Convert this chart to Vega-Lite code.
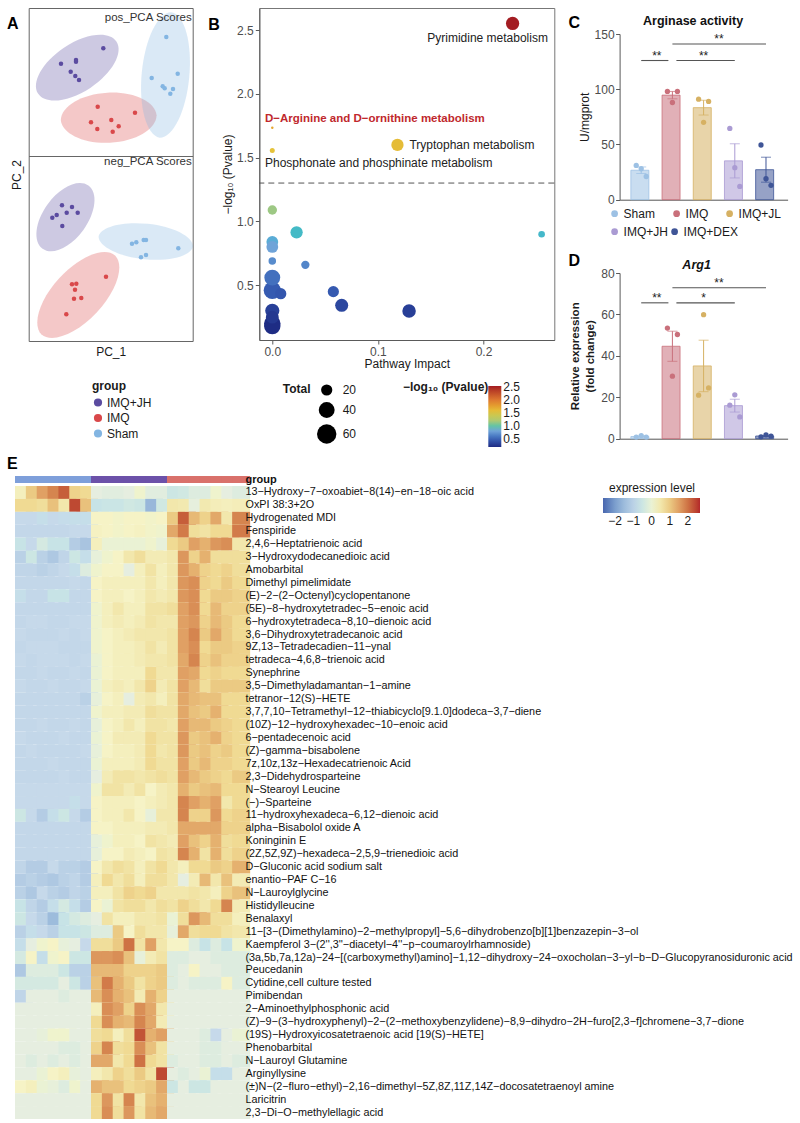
{
"$schema":"https://vega.github.io/schema/vega-lite/v6.json",
"background":"white",
"padding":{"left":7,"top":7,"right":0,"bottom":0},
"config":{"font":"Liberation Sans","view":{"stroke":null},
"axis":{"grid":false,"labelFontSize":12,"titleFontSize":12,"titleFontWeight":"normal","labelColor":"#4D4D4D","titleColor":"#1A1A1A","domainColor":"#5A5A5A","tickColor":"#5A5A5A"},
"legend":{"labelFontSize":12,"titleFontSize":12,"labelColor":"#1A1A1A","titleColor":"#1A1A1A"},
"title":{"color":"#111"}},
"datasets":{
"pcaPos":[{"g":"IMQ+JH","x":74.6,"y":107.7},{"g":"IMQ+JH","x":32.3,"y":92.3},{"g":"IMQ+JH","x":47.3,"y":96},{"g":"IMQ+JH","x":47.3,"y":94.3},{"g":"IMQ+JH","x":42,"y":84.3},{"g":"IMQ+JH","x":46.6,"y":80},{"g":"IMQ+JH","x":50.3,"y":76},
{"g":"IMQ","x":69,"y":49.3},{"g":"IMQ","x":106.3,"y":43.3},{"g":"IMQ","x":62.3,"y":33.7},{"g":"IMQ","x":68.6,"y":27},{"g":"IMQ","x":82.6,"y":36},{"g":"IMQ","x":90,"y":29.7},{"g":"IMQ","x":84,"y":24.3},
{"g":"Sham","x":137.6,"y":119},{"g":"Sham","x":149,"y":82.3},{"g":"Sham","x":123,"y":78},{"g":"Sham","x":134,"y":69.7},{"g":"Sham","x":136,"y":67.7},{"g":"Sham","x":144.3,"y":67},{"g":"Sham","x":141.6,"y":62.3}],
"pcaNeg":[{"g":"IMQ+JH","x":33.3,"y":135.7},{"g":"IMQ+JH","x":43.3,"y":134},{"g":"IMQ+JH","x":38,"y":128.3},{"g":"IMQ+JH","x":49,"y":128.3},{"g":"IMQ+JH","x":23.6,"y":123.3},{"g":"IMQ+JH","x":28,"y":126},{"g":"IMQ+JH","x":33.6,"y":115},
{"g":"Sham","x":103.3,"y":97.3},{"g":"Sham","x":107.6,"y":98.7},{"g":"Sham","x":115,"y":101},{"g":"Sham","x":117.3,"y":101},{"g":"Sham","x":149.6,"y":92.7},{"g":"Sham","x":112.3,"y":83.7},{"g":"Sham","x":117.3,"y":86},
{"g":"IMQ","x":77.3,"y":64.3},{"g":"IMQ","x":43.3,"y":56.7},{"g":"IMQ","x":47.6,"y":57.3},{"g":"IMQ","x":46.3,"y":51.3},{"g":"IMQ","x":45.3,"y":42.3},{"g":"IMQ","x":52.6,"y":43},{"g":"IMQ","x":37.6,"y":26.7}],
"ellPos":[{"g":"IMQ+JH","x":48.6,"y":88.3},{"g":"IMQ","x":80,"y":38.3},{"g":"Sham","x":136.8,"y":81}],
"ellNeg":[{"g":"IMQ+JH","x":36.8,"y":123.8},{"g":"Sham","x":117.1,"y":99.5},{"g":"IMQ","x":49.6,"y":46}],
"pw":[{"imp":0,"lp":0.46,"tot":47},{"imp":0,"lp":0.56,"tot":40},{"imp":0,"lp":0.2,"tot":43},{"imp":0,"lp":0.18,"tot":43},{"imp":0,"lp":0.3,"tot":32},{"imp":0,"lp":0.25,"tot":26},{"imp":0.1295,"lp":0.298,"tot":29},{"imp":0.0657,"lp":0.343,"tot":27},{"imp":0.0578,"lp":0.45,"tot":20},{"imp":0.008,"lp":0.434,"tot":20},{"imp":0,"lp":0.84,"tot":22},{"imp":0,"lp":0.8,"tot":22},{"imp":0.023,"lp":0.915,"tot":24},{"imp":0,"lp":0.69,"tot":9},{"imp":0.0313,"lp":0.66,"tot":11},{"imp":0,"lp":1.09,"tot":14},{"imp":0.255,"lp":0.9,"tot":7},
{"imp":0.2275,"lp":2.552,"tot":28,"label":"Pyrimidine metabolism"},{"imp":0.1185,"lp":1.6,"tot":24,"label":"Tryptophan metabolism"},{"imp":0,"lp":1.556,"tot":4,"label":"Phosphonate and phosphinate metabolism"},{"imp":0,"lp":1.734,"tot":1,"label":"D−Arginine and D−ornithine metabolism"}],
"thr":[{"t":1.30103}],
"argC":[{"g":"Sham","rep":1,"v":31},{"g":"Sham","rep":2,"v":28},{"g":"Sham","rep":3,"v":21},{"g":"IMQ","rep":1,"v":98},{"g":"IMQ","rep":2,"v":88},{"g":"IMQ","rep":3,"v":98},{"g":"IMQ+JL","rep":1,"v":91},{"g":"IMQ+JL","rep":2,"v":70},{"g":"IMQ+JL","rep":3,"v":89},{"g":"IMQ+JH","rep":1,"v":64.5},{"g":"IMQ+JH","rep":2,"v":29},{"g":"IMQ+JH","rep":3,"v":12},{"g":"IMQ+DEX","rep":1,"v":49.5},{"g":"IMQ+DEX","rep":2,"v":19},{"g":"IMQ+DEX","rep":3,"v":13}],
"argD":[{"g":"Sham","rep":1,"v":0.8},{"g":"Sham","rep":2,"v":1.5},{"g":"Sham","rep":3,"v":0.8},{"g":"IMQ","rep":1,"v":53.4},{"g":"IMQ","rep":2,"v":30.2},{"g":"IMQ","rep":3,"v":50.3},{"g":"IMQ+JL","rep":1,"v":21},{"g":"IMQ+JL","rep":2,"v":59.9},{"g":"IMQ+JL","rep":3,"v":24.5},{"g":"IMQ+JH","rep":1,"v":16.2},{"g":"IMQ+JH","rep":2,"v":21.2},{"g":"IMQ+JH","rep":3,"v":10.5},{"g":"IMQ+DEX","rep":1,"v":0.9},{"g":"IMQ+DEX","rep":2,"v":1.8},{"g":"IMQ+DEX","rep":3,"v":1.2}],
"sigC":[{"from":"Sham","to":"IMQ","y":126,"lab":"**"},{"from":"IMQ","to":"IMQ+JH","y":126,"lab":"**"},{"from":"IMQ","to":"IMQ+DEX","y":141,"lab":"**"}],
"sigD":[{"from":"Sham","to":"IMQ","y":65.6,"lab":"**"},{"from":"IMQ","to":"IMQ+JH","y":65.6,"lab":"*"},{"from":"IMQ","to":"IMQ+DEX","y":72.9,"lab":"**"}],
"cols":[{"c":1,"g":"Sham"},{"c":2,"g":"Sham"},{"c":3,"g":"Sham"},{"c":4,"g":"Sham"},{"c":5,"g":"Sham"},{"c":6,"g":"Sham"},{"c":7,"g":"Sham"},{"c":8,"g":"IMQ+JH"},{"c":9,"g":"IMQ+JH"},{"c":10,"g":"IMQ+JH"},{"c":11,"g":"IMQ+JH"},{"c":12,"g":"IMQ+JH"},{"c":13,"g":"IMQ+JH"},{"c":14,"g":"IMQ+JH"},{"c":15,"g":"IMQ"},{"c":16,"g":"IMQ"},{"c":17,"g":"IMQ"},{"c":18,"g":"IMQ"},{"c":19,"g":"IMQ"},{"c":20,"g":"IMQ"},{"c":21,"g":"IMQ"}],
"metab":[{"r":1,"m":"13−Hydroxy−7−oxoabiet−8(14)−en−18−oic acid"},{"r":2,"m":"OxPI 38:3+2O"},{"r":3,"m":"Hydrogenated MDI"},{"r":4,"m":"Fenspiride"},{"r":5,"m":"2,4,6−Heptatrienoic acid"},{"r":6,"m":"3−Hydroxydodecanedioic acid"},{"r":7,"m":"Amobarbital"},{"r":8,"m":"Dimethyl pimelimidate"},{"r":9,"m":"(E)−2−(2−Octenyl)cyclopentanone"},{"r":10,"m":"(5E)−8−hydroxytetradec−5−enoic acid"},{"r":11,"m":"6−hydroxytetradeca−8,10−dienoic acid"},{"r":12,"m":"3,6−Dihydroxytetradecanoic acid"},{"r":13,"m":"9Z,13−Tetradecadien−11−ynal"},{"r":14,"m":"tetradeca−4,6,8−trienoic acid"},{"r":15,"m":"Synephrine"},{"r":16,"m":"3,5−Dimethyladamantan−1−amine"},{"r":17,"m":"tetranor−12(S)−HETE"},{"r":18,"m":"3,7,7,10−Tetramethyl−12−thiabicyclo[9.1.0]dodeca−3,7−diene"},{"r":19,"m":"(10Z)−12−hydroxyhexadec−10−enoic acid"},{"r":20,"m":"6−pentadecenoic acid"},{"r":21,"m":"(Z)−gamma−bisabolene"},{"r":22,"m":"7z,10z,13z−Hexadecatrienoic Acid"},{"r":23,"m":"2,3−Didehydrosparteine"},{"r":24,"m":"N−Stearoyl Leucine"},{"r":25,"m":"(−)−Sparteine"},{"r":26,"m":"11−hydroxyhexadeca−6,12−dienoic acid"},{"r":27,"m":"alpha−Bisabolol oxide A"},{"r":28,"m":"Koninginin E"},{"r":29,"m":"(2Z,5Z,9Z)−hexadeca−2,5,9−trienedioic acid"},{"r":30,"m":"D−Gluconic acid sodium salt"},{"r":31,"m":"enantio−PAF C−16"},{"r":32,"m":"N−Lauroylglycine"},{"r":33,"m":"Histidylleucine"},{"r":34,"m":"Benalaxyl"},{"r":35,"m":"11−[3−(Dimethylamino)−2−methylpropyl]−5,6−dihydrobenzo[b][1]benzazepin−3−ol"},{"r":36,"m":"Kaempferol 3−(2'',3''−diacetyl−4''−p−coumaroylrhamnoside)"},{"r":37,"m":"(3a,5b,7a,12a)−24−[(carboxymethyl)amino]−1,12−dihydroxy−24−oxocholan−3−yl−b−D−Glucopyranosiduronic acid"},{"r":38,"m":"Peucedanin"},{"r":39,"m":"Cytidine,cell culture tested"},{"r":40,"m":"Pimibendan"},{"r":41,"m":"2−Aminoethylphosphonic acid"},{"r":42,"m":"(Z)−9−(3−hydroxyphenyl)−2−(2−methoxybenzylidene)−8,9−dihydro−2H−furo[2,3−f]chromene−3,7−dione"},{"r":43,"m":"(19S)−Hydroxyicosatetraenoic acid [19(S)−HETE]"},{"r":44,"m":"Phenobarbital"},{"r":45,"m":"N−Lauroyl Glutamine"},{"r":46,"m":"Arginyllysine"},{"r":47,"m":"(±)N−(2−fluro−ethyl)−2,16−dimethyl−5Z,8Z,11Z,14Z−docosatetraenoyl amine"},{"r":48,"m":"Laricitrin"},{"r":49,"m":"2,3−Di−O−methylellagic acid"}],
"cells":[
{"r":1,"c":1,"v":0.3},{"r":1,"c":2,"v":1},{"r":1,"c":3,"v":1.5},{"r":1,"c":4,"v":1.8},{"r":1,"c":5,"v":2.2},{"r":1,"c":6,"v":0.9},{"r":1,"c":7,"v":0.8},{"r":1,"c":8,"v":-0.2},{"r":1,"c":9,"v":-0.25},{"r":1,"c":10,"v":-0.25},{"r":1,"c":11,"v":-0.2},{"r":1,"c":12,"v":0.1},{"r":1,"c":13,"v":-0.25},{"r":1,"c":14,"v":-0.25},{"r":1,"c":15,"v":-0.5},{"r":1,"c":16,"v":-0.45},{"r":1,"c":17,"v":-0.3},{"r":1,"c":18,"v":-0.3},{"r":1,"c":19,"v":0.1},{"r":1,"c":20,"v":-0.2},{"r":1,"c":21,"v":-0.3},
{"r":2,"c":1,"v":0.8},{"r":2,"c":2,"v":0.8},{"r":2,"c":3,"v":0.7},{"r":2,"c":4,"v":1.1},{"r":2,"c":5,"v":0.5},{"r":2,"c":6,"v":2.4},{"r":2,"c":7,"v":1.1},{"r":2,"c":8,"v":-0.6},{"r":2,"c":9,"v":-0.55},{"r":2,"c":10,"v":-0.55},{"r":2,"c":11,"v":-0.45},{"r":2,"c":12,"v":-0.5},{"r":2,"c":13,"v":-1.6},{"r":2,"c":14,"v":-0.45},{"r":2,"c":15,"v":0.5},{"r":2,"c":16,"v":0.45},{"r":2,"c":17,"v":-0.15},{"r":2,"c":18,"v":0.45},{"r":2,"c":19,"v":0.35},{"r":2,"c":20,"v":0.3},{"r":2,"c":21,"v":0.35},
{"r":3,"c":1,"v":-0.8},{"r":3,"c":2,"v":-0.8},{"r":3,"c":3,"v":-0.7},{"r":3,"c":4,"v":-0.8},{"r":3,"c":5,"v":-0.75},{"r":3,"c":6,"v":-0.7},{"r":3,"c":7,"v":-0.7},{"r":3,"c":8,"v":0.2},{"r":3,"c":9,"v":0.2},{"r":3,"c":10,"v":0.15},{"r":3,"c":11,"v":0.2},{"r":3,"c":12,"v":0.2},{"r":3,"c":13,"v":0.15},{"r":3,"c":14,"v":0.2},{"r":3,"c":15,"v":1},{"r":3,"c":16,"v":2.2},{"r":3,"c":17,"v":1.2},{"r":3,"c":18,"v":0.9},{"r":3,"c":19,"v":1.4},{"r":3,"c":20,"v":0.5},{"r":3,"c":21,"v":1.8},
{"r":4,"c":1,"v":-0.85},{"r":4,"c":2,"v":-0.85},{"r":4,"c":3,"v":-0.85},{"r":4,"c":4,"v":-0.85},{"r":4,"c":5,"v":-0.85},{"r":4,"c":6,"v":-0.8},{"r":4,"c":7,"v":-0.8},{"r":4,"c":8,"v":0.25},{"r":4,"c":9,"v":0.2},{"r":4,"c":10,"v":0.15},{"r":4,"c":11,"v":0.2},{"r":4,"c":12,"v":0.25},{"r":4,"c":13,"v":0.15},{"r":4,"c":14,"v":0.1},{"r":4,"c":15,"v":1.4},{"r":4,"c":16,"v":1.9},{"r":4,"c":17,"v":0.7},{"r":4,"c":18,"v":0.6},{"r":4,"c":19,"v":0.8},{"r":4,"c":20,"v":0.8},{"r":4,"c":21,"v":1.9},
{"r":5,"c":1,"v":-0.6},{"r":5,"c":2,"v":-0.8},{"r":5,"c":3,"v":-0.4},{"r":5,"c":4,"v":-0.6},{"r":5,"c":5,"v":-0.6},{"r":5,"c":6,"v":-1.1},{"r":5,"c":7,"v":-1.3},{"r":5,"c":8,"v":0.3},{"r":5,"c":9,"v":0},{"r":5,"c":10,"v":0},{"r":5,"c":11,"v":0},{"r":5,"c":12,"v":0},{"r":5,"c":13,"v":0.1},{"r":5,"c":14,"v":-0.1},{"r":5,"c":15,"v":0.8},{"r":5,"c":16,"v":1},{"r":5,"c":17,"v":1.5},{"r":5,"c":18,"v":1.3},{"r":5,"c":19,"v":1.6},{"r":5,"c":20,"v":1.7},{"r":5,"c":21,"v":0.5},
{"r":6,"c":1,"v":-1},{"r":6,"c":2,"v":-0.5},{"r":6,"c":3,"v":-1},{"r":6,"c":4,"v":-1.2},{"r":6,"c":5,"v":-0.9},{"r":6,"c":6,"v":-0.5},{"r":6,"c":7,"v":-0.7},{"r":6,"c":8,"v":-0.1},{"r":6,"c":9,"v":0.1},{"r":6,"c":10,"v":0.2},{"r":6,"c":11,"v":0.5},{"r":6,"c":12,"v":0.7},{"r":6,"c":13,"v":0.4},{"r":6,"c":14,"v":0.4},{"r":6,"c":15,"v":0.5},{"r":6,"c":16,"v":1.6},{"r":6,"c":17,"v":0.9},{"r":6,"c":18,"v":1.3},{"r":6,"c":19,"v":0.7},{"r":6,"c":20,"v":0.7},{"r":6,"c":21,"v":0.7},
{"r":7,"c":1,"v":-0.9},{"r":7,"c":2,"v":-0.9},{"r":7,"c":3,"v":-1},{"r":7,"c":4,"v":-0.9},{"r":7,"c":5,"v":-0.8},{"r":7,"c":6,"v":-0.7},{"r":7,"c":7,"v":-0.3},{"r":7,"c":8,"v":0.1},{"r":7,"c":9,"v":0.2},{"r":7,"c":10,"v":0.2},{"r":7,"c":11,"v":-0.2},{"r":7,"c":12,"v":0.3},{"r":7,"c":13,"v":0.6},{"r":7,"c":14,"v":0.3},{"r":7,"c":15,"v":0.5},{"r":7,"c":16,"v":1.6},{"r":7,"c":17,"v":1.3},{"r":7,"c":18,"v":0.9},{"r":7,"c":19,"v":0.8},{"r":7,"c":20,"v":0.9},{"r":7,"c":21,"v":0.7},
{"r":8,"c":1,"v":-0.85},{"r":8,"c":2,"v":-0.85},{"r":8,"c":3,"v":-0.85},{"r":8,"c":4,"v":-0.85},{"r":8,"c":5,"v":-0.85},{"r":8,"c":6,"v":-0.8},{"r":8,"c":7,"v":-0.85},{"r":8,"c":8,"v":0.2},{"r":8,"c":9,"v":0.3},{"r":8,"c":10,"v":0.3},{"r":8,"c":11,"v":0.3},{"r":8,"c":12,"v":0.3},{"r":8,"c":13,"v":0.5},{"r":8,"c":14,"v":0.3},{"r":8,"c":15,"v":0.5},{"r":8,"c":16,"v":1.6},{"r":8,"c":17,"v":1.7},{"r":8,"c":18,"v":0.9},{"r":8,"c":19,"v":0.8},{"r":8,"c":20,"v":1},{"r":8,"c":21,"v":0.8},
{"r":9,"c":1,"v":-0.7},{"r":9,"c":2,"v":-0.85},{"r":9,"c":3,"v":-0.85},{"r":9,"c":4,"v":-0.6},{"r":9,"c":5,"v":-0.6},{"r":9,"c":6,"v":-0.85},{"r":9,"c":7,"v":-0.85},{"r":9,"c":8,"v":0.2},{"r":9,"c":9,"v":0.3},{"r":9,"c":10,"v":0.3},{"r":9,"c":11,"v":0.2},{"r":9,"c":12,"v":0.3},{"r":9,"c":13,"v":0.5},{"r":9,"c":14,"v":0.4},{"r":9,"c":15,"v":0.5},{"r":9,"c":16,"v":1.6},{"r":9,"c":17,"v":1.7},{"r":9,"c":18,"v":0.8},{"r":9,"c":19,"v":1},{"r":9,"c":20,"v":1},{"r":9,"c":21,"v":0.9},
{"r":10,"c":1,"v":-0.85},{"r":10,"c":2,"v":-0.85},{"r":10,"c":3,"v":-0.85},{"r":10,"c":4,"v":-0.85},{"r":10,"c":5,"v":-0.85},{"r":10,"c":6,"v":-0.85},{"r":10,"c":7,"v":-0.85},{"r":10,"c":8,"v":0.1},{"r":10,"c":9,"v":0.3},{"r":10,"c":10,"v":0.5},{"r":10,"c":11,"v":0.3},{"r":10,"c":12,"v":0.3},{"r":10,"c":13,"v":0.6},{"r":10,"c":14,"v":0.6},{"r":10,"c":15,"v":0.7},{"r":10,"c":16,"v":1.5},{"r":10,"c":17,"v":1.7},{"r":10,"c":18,"v":0.8},{"r":10,"c":19,"v":1.2},{"r":10,"c":20,"v":0.9},{"r":10,"c":21,"v":0.9},
{"r":11,"c":1,"v":-0.85},{"r":11,"c":2,"v":-0.8},{"r":11,"c":3,"v":-0.8},{"r":11,"c":4,"v":-0.85},{"r":11,"c":5,"v":-0.85},{"r":11,"c":6,"v":-0.8},{"r":11,"c":7,"v":-0.8},{"r":11,"c":8,"v":0.1},{"r":11,"c":9,"v":0.3},{"r":11,"c":10,"v":0.4},{"r":11,"c":11,"v":0.3},{"r":11,"c":12,"v":0.4},{"r":11,"c":13,"v":0.6},{"r":11,"c":14,"v":0.5},{"r":11,"c":15,"v":0.5},{"r":11,"c":16,"v":1.5},{"r":11,"c":17,"v":1.6},{"r":11,"c":18,"v":0.9},{"r":11,"c":19,"v":1.2},{"r":11,"c":20,"v":1},{"r":11,"c":21,"v":0.8},
{"r":12,"c":1,"v":-0.8},{"r":12,"c":2,"v":-0.85},{"r":12,"c":3,"v":-0.85},{"r":12,"c":4,"v":-0.85},{"r":12,"c":5,"v":-0.8},{"r":12,"c":6,"v":-0.85},{"r":12,"c":7,"v":-0.8},{"r":12,"c":8,"v":0.1},{"r":12,"c":9,"v":0.2},{"r":12,"c":10,"v":0.3},{"r":12,"c":11,"v":0.4},{"r":12,"c":12,"v":0.5},{"r":12,"c":13,"v":0.5},{"r":12,"c":14,"v":0.5},{"r":12,"c":15,"v":0.6},{"r":12,"c":16,"v":1.5},{"r":12,"c":17,"v":1.8},{"r":12,"c":18,"v":1},{"r":12,"c":19,"v":1.4},{"r":12,"c":20,"v":1},{"r":12,"c":21,"v":0.8},
{"r":13,"c":1,"v":-0.85},{"r":13,"c":2,"v":-0.8},{"r":13,"c":3,"v":-0.8},{"r":13,"c":4,"v":-0.8},{"r":13,"c":5,"v":-0.85},{"r":13,"c":6,"v":-0.85},{"r":13,"c":7,"v":-0.85},{"r":13,"c":8,"v":0.1},{"r":13,"c":9,"v":0.2},{"r":13,"c":10,"v":0.3},{"r":13,"c":11,"v":0.3},{"r":13,"c":12,"v":0.4},{"r":13,"c":13,"v":0.6},{"r":13,"c":14,"v":0.4},{"r":13,"c":15,"v":0.6},{"r":13,"c":16,"v":1.5},{"r":13,"c":17,"v":1.7},{"r":13,"c":18,"v":0.8},{"r":13,"c":19,"v":1},{"r":13,"c":20,"v":1},{"r":13,"c":21,"v":0.9},
{"r":14,"c":1,"v":-0.8},{"r":14,"c":2,"v":-0.85},{"r":14,"c":3,"v":-0.8},{"r":14,"c":4,"v":-0.8},{"r":14,"c":5,"v":-0.8},{"r":14,"c":6,"v":-0.85},{"r":14,"c":7,"v":-0.8},{"r":14,"c":8,"v":0},{"r":14,"c":9,"v":0.2},{"r":14,"c":10,"v":0.3},{"r":14,"c":11,"v":0.3},{"r":14,"c":12,"v":0.4},{"r":14,"c":13,"v":0.5},{"r":14,"c":14,"v":0.5},{"r":14,"c":15,"v":0.6},{"r":14,"c":16,"v":1.4},{"r":14,"c":17,"v":1.8},{"r":14,"c":18,"v":0.9},{"r":14,"c":19,"v":1.1},{"r":14,"c":20,"v":0.9},{"r":14,"c":21,"v":0.9},
{"r":15,"c":1,"v":-0.85},{"r":15,"c":2,"v":-0.85},{"r":15,"c":3,"v":-0.8},{"r":15,"c":4,"v":-0.85},{"r":15,"c":5,"v":-0.85},{"r":15,"c":6,"v":-0.8},{"r":15,"c":7,"v":-0.85},{"r":15,"c":8,"v":0},{"r":15,"c":9,"v":0.2},{"r":15,"c":10,"v":0.3},{"r":15,"c":11,"v":0.3},{"r":15,"c":12,"v":0.3},{"r":15,"c":13,"v":0.8},{"r":15,"c":14,"v":0.5},{"r":15,"c":15,"v":0.5},{"r":15,"c":16,"v":1.5},{"r":15,"c":17,"v":1.4},{"r":15,"c":18,"v":0.8},{"r":15,"c":19,"v":0.9},{"r":15,"c":20,"v":0.8},{"r":15,"c":21,"v":0.8},
{"r":16,"c":1,"v":-0.8},{"r":16,"c":2,"v":-0.85},{"r":16,"c":3,"v":-0.85},{"r":16,"c":4,"v":-0.8},{"r":16,"c":5,"v":-0.85},{"r":16,"c":6,"v":-0.85},{"r":16,"c":7,"v":-0.8},{"r":16,"c":8,"v":0},{"r":16,"c":9,"v":0.3},{"r":16,"c":10,"v":0.4},{"r":16,"c":11,"v":0.3},{"r":16,"c":12,"v":0.5},{"r":16,"c":13,"v":0.9},{"r":16,"c":14,"v":0.4},{"r":16,"c":15,"v":0.6},{"r":16,"c":16,"v":1.5},{"r":16,"c":17,"v":1.2},{"r":16,"c":18,"v":0.7},{"r":16,"c":19,"v":1},{"r":16,"c":20,"v":1},{"r":16,"c":21,"v":1},
{"r":17,"c":1,"v":-0.85},{"r":17,"c":2,"v":-0.85},{"r":17,"c":3,"v":-0.85},{"r":17,"c":4,"v":-0.85},{"r":17,"c":5,"v":-0.85},{"r":17,"c":6,"v":-0.85},{"r":17,"c":7,"v":-1},{"r":17,"c":8,"v":-0.1},{"r":17,"c":9,"v":0.2},{"r":17,"c":10,"v":0.3},{"r":17,"c":11,"v":-0.2},{"r":17,"c":12,"v":0.4},{"r":17,"c":13,"v":0.5},{"r":17,"c":14,"v":0.3},{"r":17,"c":15,"v":0.6},{"r":17,"c":16,"v":1.4},{"r":17,"c":17,"v":1.2},{"r":17,"c":18,"v":1.1},{"r":17,"c":19,"v":1.1},{"r":17,"c":20,"v":0.8},{"r":17,"c":21,"v":0.8},
{"r":18,"c":1,"v":-0.85},{"r":18,"c":2,"v":-0.85},{"r":18,"c":3,"v":-0.85},{"r":18,"c":4,"v":-0.85},{"r":18,"c":5,"v":-0.85},{"r":18,"c":6,"v":-0.85},{"r":18,"c":7,"v":-0.85},{"r":18,"c":8,"v":0.1},{"r":18,"c":9,"v":0.3},{"r":18,"c":10,"v":0.3},{"r":18,"c":11,"v":0.4},{"r":18,"c":12,"v":0.4},{"r":18,"c":13,"v":0.7},{"r":18,"c":14,"v":0.6},{"r":18,"c":15,"v":0.6},{"r":18,"c":16,"v":1.4},{"r":18,"c":17,"v":1.1},{"r":18,"c":18,"v":1},{"r":18,"c":19,"v":1.3},{"r":18,"c":20,"v":0.8},{"r":18,"c":21,"v":0.8},
{"r":19,"c":1,"v":-0.85},{"r":19,"c":2,"v":-0.85},{"r":19,"c":3,"v":-0.8},{"r":19,"c":4,"v":-0.85},{"r":19,"c":5,"v":-0.85},{"r":19,"c":6,"v":-0.8},{"r":19,"c":7,"v":-0.85},{"r":19,"c":8,"v":-0.1},{"r":19,"c":9,"v":0.2},{"r":19,"c":10,"v":0.3},{"r":19,"c":11,"v":0.5},{"r":19,"c":12,"v":0.3},{"r":19,"c":13,"v":0.6},{"r":19,"c":14,"v":0.6},{"r":19,"c":15,"v":0.5},{"r":19,"c":16,"v":1.5},{"r":19,"c":17,"v":1.2},{"r":19,"c":18,"v":1.2},{"r":19,"c":19,"v":1},{"r":19,"c":20,"v":0.9},{"r":19,"c":21,"v":0.8},
{"r":20,"c":1,"v":-0.8},{"r":20,"c":2,"v":-0.85},{"r":20,"c":3,"v":-0.85},{"r":20,"c":4,"v":-0.85},{"r":20,"c":5,"v":-0.8},{"r":20,"c":6,"v":-0.85},{"r":20,"c":7,"v":-0.85},{"r":20,"c":8,"v":0},{"r":20,"c":9,"v":0.2},{"r":20,"c":10,"v":0.4},{"r":20,"c":11,"v":0.4},{"r":20,"c":12,"v":0.4},{"r":20,"c":13,"v":0.8},{"r":20,"c":14,"v":0.6},{"r":20,"c":15,"v":0.6},{"r":20,"c":16,"v":1.6},{"r":20,"c":17,"v":1},{"r":20,"c":18,"v":1.1},{"r":20,"c":19,"v":1.3},{"r":20,"c":20,"v":0.9},{"r":20,"c":21,"v":0.8},
{"r":21,"c":1,"v":-0.85},{"r":21,"c":2,"v":-0.8},{"r":21,"c":3,"v":-0.85},{"r":21,"c":4,"v":-0.85},{"r":21,"c":5,"v":-0.85},{"r":21,"c":6,"v":-0.85},{"r":21,"c":7,"v":-0.8},{"r":21,"c":8,"v":-0.1},{"r":21,"c":9,"v":0.2},{"r":21,"c":10,"v":0.3},{"r":21,"c":11,"v":0.3},{"r":21,"c":12,"v":0.4},{"r":21,"c":13,"v":0.8},{"r":21,"c":14,"v":0.5},{"r":21,"c":15,"v":0.6},{"r":21,"c":16,"v":1.6},{"r":21,"c":17,"v":1},{"r":21,"c":18,"v":1.1},{"r":21,"c":19,"v":0.9},{"r":21,"c":20,"v":1},{"r":21,"c":21,"v":0.8},
{"r":22,"c":1,"v":-0.85},{"r":22,"c":2,"v":-0.85},{"r":22,"c":3,"v":-0.85},{"r":22,"c":4,"v":-0.8},{"r":22,"c":5,"v":-0.85},{"r":22,"c":6,"v":-0.85},{"r":22,"c":7,"v":-0.85},{"r":22,"c":8,"v":0},{"r":22,"c":9,"v":0.3},{"r":22,"c":10,"v":0.3},{"r":22,"c":11,"v":0.3},{"r":22,"c":12,"v":0.4},{"r":22,"c":13,"v":0.8},{"r":22,"c":14,"v":0.6},{"r":22,"c":15,"v":0.6},{"r":22,"c":16,"v":1.5},{"r":22,"c":17,"v":1},{"r":22,"c":18,"v":1.2},{"r":22,"c":19,"v":0.9},{"r":22,"c":20,"v":0.9},{"r":22,"c":21,"v":0.8},
{"r":23,"c":1,"v":-0.85},{"r":23,"c":2,"v":-0.85},{"r":23,"c":3,"v":-0.85},{"r":23,"c":4,"v":-0.85},{"r":23,"c":5,"v":-0.8},{"r":23,"c":6,"v":-0.85},{"r":23,"c":7,"v":-0.85},{"r":23,"c":8,"v":-0.2},{"r":23,"c":9,"v":0.4},{"r":23,"c":10,"v":0.6},{"r":23,"c":11,"v":0.6},{"r":23,"c":12,"v":0.5},{"r":23,"c":13,"v":0.6},{"r":23,"c":14,"v":0.7},{"r":23,"c":15,"v":0.6},{"r":23,"c":16,"v":1.5},{"r":23,"c":17,"v":1.2},{"r":23,"c":18,"v":1},{"r":23,"c":19,"v":0.9},{"r":23,"c":20,"v":0.8},{"r":23,"c":21,"v":1},
{"r":24,"c":1,"v":-0.8},{"r":24,"c":2,"v":-0.8},{"r":24,"c":3,"v":-0.8},{"r":24,"c":4,"v":-0.8},{"r":24,"c":5,"v":-0.8},{"r":24,"c":6,"v":-0.8},{"r":24,"c":7,"v":-0.8},{"r":24,"c":8,"v":0.1},{"r":24,"c":9,"v":0.6},{"r":24,"c":10,"v":0.6},{"r":24,"c":11,"v":0.4},{"r":24,"c":12,"v":0.6},{"r":24,"c":13,"v":0.2},{"r":24,"c":14,"v":0.4},{"r":24,"c":15,"v":0.5},{"r":24,"c":16,"v":1.3},{"r":24,"c":17,"v":1},{"r":24,"c":18,"v":1.1},{"r":24,"c":19,"v":1.2},{"r":24,"c":20,"v":0.8},{"r":24,"c":21,"v":0.8},
{"r":25,"c":1,"v":-0.8},{"r":25,"c":2,"v":-0.8},{"r":25,"c":3,"v":-0.8},{"r":25,"c":4,"v":-0.8},{"r":25,"c":5,"v":-0.8},{"r":25,"c":6,"v":-0.7},{"r":25,"c":7,"v":-0.8},{"r":25,"c":8,"v":0.2},{"r":25,"c":9,"v":0.3},{"r":25,"c":10,"v":0.3},{"r":25,"c":11,"v":0.3},{"r":25,"c":12,"v":0.2},{"r":25,"c":13,"v":0.3},{"r":25,"c":14,"v":0.4},{"r":25,"c":15,"v":0.5},{"r":25,"c":16,"v":1.8},{"r":25,"c":17,"v":1.5},{"r":25,"c":18,"v":1.3},{"r":25,"c":19,"v":1.5},{"r":25,"c":20,"v":0.5},{"r":25,"c":21,"v":0.8},
{"r":26,"c":1,"v":-0.5},{"r":26,"c":2,"v":-0.8},{"r":26,"c":3,"v":-1.1},{"r":26,"c":4,"v":-0.7},{"r":26,"c":5,"v":-0.5},{"r":26,"c":6,"v":-0.8},{"r":26,"c":7,"v":-1.1},{"r":26,"c":8,"v":0.2},{"r":26,"c":9,"v":0.3},{"r":26,"c":10,"v":0.3},{"r":26,"c":11,"v":0.5},{"r":26,"c":12,"v":0.2},{"r":26,"c":13,"v":-0.1},{"r":26,"c":14,"v":0.5},{"r":26,"c":15,"v":0.5},{"r":26,"c":16,"v":1.8},{"r":26,"c":17,"v":0.9},{"r":26,"c":18,"v":0.9},{"r":26,"c":19,"v":1.6},{"r":26,"c":20,"v":0.8},{"r":26,"c":21,"v":0.9},
{"r":27,"c":1,"v":-0.85},{"r":27,"c":2,"v":-0.85},{"r":27,"c":3,"v":-0.85},{"r":27,"c":4,"v":-0.85},{"r":27,"c":5,"v":-0.85},{"r":27,"c":6,"v":-0.85},{"r":27,"c":7,"v":-0.85},{"r":27,"c":8,"v":0.2},{"r":27,"c":9,"v":0.2},{"r":27,"c":10,"v":0.3},{"r":27,"c":11,"v":0.3},{"r":27,"c":12,"v":0.3},{"r":27,"c":13,"v":0.4},{"r":27,"c":14,"v":0.4},{"r":27,"c":15,"v":0.5},{"r":27,"c":16,"v":1.4},{"r":27,"c":17,"v":1.4},{"r":27,"c":18,"v":1.4},{"r":27,"c":19,"v":1.4},{"r":27,"c":20,"v":0.9},{"r":27,"c":21,"v":0.9},
{"r":28,"c":1,"v":-0.85},{"r":28,"c":2,"v":-0.85},{"r":28,"c":3,"v":-0.85},{"r":28,"c":4,"v":-0.85},{"r":28,"c":5,"v":-0.85},{"r":28,"c":6,"v":-0.85},{"r":28,"c":7,"v":-0.85},{"r":28,"c":8,"v":-0.1},{"r":28,"c":9,"v":0.1},{"r":28,"c":10,"v":0.3},{"r":28,"c":11,"v":0.3},{"r":28,"c":12,"v":0.2},{"r":28,"c":13,"v":0.6},{"r":28,"c":14,"v":0.5},{"r":28,"c":15,"v":0.4},{"r":28,"c":16,"v":1.5},{"r":28,"c":17,"v":1.1},{"r":28,"c":18,"v":0.9},{"r":28,"c":19,"v":1.3},{"r":28,"c":20,"v":0.7},{"r":28,"c":21,"v":0.8},
{"r":29,"c":1,"v":-0.85},{"r":29,"c":2,"v":-0.85},{"r":29,"c":3,"v":-0.85},{"r":29,"c":4,"v":-0.85},{"r":29,"c":5,"v":-0.85},{"r":29,"c":6,"v":-0.85},{"r":29,"c":7,"v":-0.85},{"r":29,"c":8,"v":-0.1},{"r":29,"c":9,"v":0.2},{"r":29,"c":10,"v":0.2},{"r":29,"c":11,"v":0.4},{"r":29,"c":12,"v":0.3},{"r":29,"c":13,"v":0.2},{"r":29,"c":14,"v":0.6},{"r":29,"c":15,"v":0.5},{"r":29,"c":16,"v":1.8},{"r":29,"c":17,"v":1.3},{"r":29,"c":18,"v":0.6},{"r":29,"c":19,"v":1.3},{"r":29,"c":20,"v":0.7},{"r":29,"c":21,"v":0.9},
{"r":30,"c":1,"v":-0.9},{"r":30,"c":2,"v":-1.1},{"r":30,"c":3,"v":-1.1},{"r":30,"c":4,"v":-0.8},{"r":30,"c":5,"v":-1},{"r":30,"c":6,"v":-1},{"r":30,"c":7,"v":-1.1},{"r":30,"c":8,"v":0.2},{"r":30,"c":9,"v":0.5},{"r":30,"c":10,"v":0.7},{"r":30,"c":11,"v":0.6},{"r":30,"c":12,"v":0.3},{"r":30,"c":13,"v":0.6},{"r":30,"c":14,"v":0.8},{"r":30,"c":15,"v":0.5},{"r":30,"c":16,"v":0.3},{"r":30,"c":17,"v":0.8},{"r":30,"c":18,"v":0.8},{"r":30,"c":19,"v":1},{"r":30,"c":20,"v":0.9},{"r":30,"c":21,"v":1.3},
{"r":31,"c":1,"v":-1.1},{"r":31,"c":2,"v":-1},{"r":31,"c":3,"v":-1.1},{"r":31,"c":4,"v":-1.2},{"r":31,"c":5,"v":-1},{"r":31,"c":6,"v":-0.9},{"r":31,"c":7,"v":-1.1},{"r":31,"c":8,"v":0.3},{"r":31,"c":9,"v":0.8},{"r":31,"c":10,"v":0.5},{"r":31,"c":11,"v":0.7},{"r":31,"c":12,"v":0.3},{"r":31,"c":13,"v":0.7},{"r":31,"c":14,"v":0.7},{"r":31,"c":15,"v":0.5},{"r":31,"c":16,"v":-0.2},{"r":31,"c":17,"v":0.4},{"r":31,"c":18,"v":1.2},{"r":31,"c":19,"v":0.5},{"r":31,"c":20,"v":1.1},{"r":31,"c":21,"v":0.4},
{"r":32,"c":1,"v":-1},{"r":32,"c":2,"v":-1.2},{"r":32,"c":3,"v":-0.8},{"r":32,"c":4,"v":-1},{"r":32,"c":5,"v":-1.1},{"r":32,"c":6,"v":-0.9},{"r":32,"c":7,"v":-1},{"r":32,"c":8,"v":0.3},{"r":32,"c":9,"v":0.3},{"r":32,"c":10,"v":0.6},{"r":32,"c":11,"v":0.9},{"r":32,"c":12,"v":0.8},{"r":32,"c":13,"v":0.9},{"r":32,"c":14,"v":0.5},{"r":32,"c":15,"v":0.5},{"r":32,"c":16,"v":0.5},{"r":32,"c":17,"v":0.6},{"r":32,"c":18,"v":0.5},{"r":32,"c":19,"v":0.3},{"r":32,"c":20,"v":0.9},{"r":32,"c":21,"v":1.1},
{"r":33,"c":1,"v":-0.6},{"r":33,"c":2,"v":-0.9},{"r":33,"c":3,"v":-1.1},{"r":33,"c":4,"v":-0.7},{"r":33,"c":5,"v":-0.4},{"r":33,"c":6,"v":-0.7},{"r":33,"c":7,"v":-1.1},{"r":33,"c":8,"v":0.2},{"r":33,"c":9,"v":0},{"r":33,"c":10,"v":0.6},{"r":33,"c":11,"v":0.7},{"r":33,"c":12,"v":0.7},{"r":33,"c":13,"v":0.5},{"r":33,"c":14,"v":0.7},{"r":33,"c":15,"v":0.6},{"r":33,"c":16,"v":0.9},{"r":33,"c":17,"v":0.7},{"r":33,"c":18,"v":0.5},{"r":33,"c":19,"v":0.8},{"r":33,"c":20,"v":1.8},{"r":33,"c":21,"v":0.4},
{"r":34,"c":1,"v":-0.5},{"r":34,"c":2,"v":-0.8},{"r":34,"c":3,"v":-1},{"r":34,"c":4,"v":-1.5},{"r":34,"c":5,"v":-0.6},{"r":34,"c":6,"v":-0.4},{"r":34,"c":7,"v":-0.3},{"r":34,"c":8,"v":-0.2},{"r":34,"c":9,"v":0.6},{"r":34,"c":10,"v":0.3},{"r":34,"c":11,"v":0.3},{"r":34,"c":12,"v":0.5},{"r":34,"c":13,"v":0.5},{"r":34,"c":14,"v":0.6},{"r":34,"c":15,"v":0},{"r":34,"c":16,"v":0.7},{"r":34,"c":17,"v":1.6},{"r":34,"c":18,"v":1.2},{"r":34,"c":19,"v":0.7},{"r":34,"c":20,"v":0.7},{"r":34,"c":21,"v":0.3},
{"r":35,"c":1,"v":-1},{"r":35,"c":2,"v":-0.7},{"r":35,"c":3,"v":-0.8},{"r":35,"c":4,"v":-1},{"r":35,"c":5,"v":-0.6},{"r":35,"c":6,"v":-0.6},{"r":35,"c":7,"v":-0.5},{"r":35,"c":8,"v":-0.3},{"r":35,"c":9,"v":-0.3},{"r":35,"c":10,"v":1},{"r":35,"c":11,"v":0.2},{"r":35,"c":12,"v":0.7},{"r":35,"c":13,"v":0.5},{"r":35,"c":14,"v":0.5},{"r":35,"c":15,"v":-0.1},{"r":35,"c":16,"v":1.4},{"r":35,"c":17,"v":0.7},{"r":35,"c":18,"v":0.8},{"r":35,"c":19,"v":0.8},{"r":35,"c":20,"v":0.6},{"r":35,"c":21,"v":0.5},
{"r":36,"c":1,"v":-0.7},{"r":36,"c":2,"v":-0.2},{"r":36,"c":3,"v":0.1},{"r":36,"c":4,"v":0.2},{"r":36,"c":5,"v":-0.1},{"r":36,"c":6,"v":-0.2},{"r":36,"c":7,"v":-0.8},{"r":36,"c":8,"v":0.7},{"r":36,"c":9,"v":0.7},{"r":36,"c":10,"v":1},{"r":36,"c":11,"v":2},{"r":36,"c":12,"v":0.6},{"r":36,"c":13,"v":1.5},{"r":36,"c":14,"v":0.5},{"r":36,"c":15,"v":0.2},{"r":36,"c":16,"v":0.2},{"r":36,"c":17,"v":-0.3},{"r":36,"c":18,"v":-0.6},{"r":36,"c":19,"v":-0.3},{"r":36,"c":20,"v":-0.6},{"r":36,"c":21,"v":0.1},
{"r":37,"c":1,"v":-0.4},{"r":37,"c":2,"v":0.2},{"r":37,"c":3,"v":-0.7},{"r":37,"c":4,"v":0.1},{"r":37,"c":5,"v":0.2},{"r":37,"c":6,"v":-0.5},{"r":37,"c":7,"v":-0.5},{"r":37,"c":8,"v":1.6},{"r":37,"c":9,"v":1.6},{"r":37,"c":10,"v":1.7},{"r":37,"c":11,"v":1.1},{"r":37,"c":12,"v":-0.1},{"r":37,"c":13,"v":0.4},{"r":37,"c":14,"v":0.6},{"r":37,"c":15,"v":-0.3},{"r":37,"c":16,"v":-0.3},{"r":37,"c":17,"v":-0.2},{"r":37,"c":18,"v":-0.2},{"r":37,"c":19,"v":-0.3},{"r":37,"c":20,"v":-0.3},{"r":37,"c":21,"v":-0.3},
{"r":38,"c":1,"v":-1.2},{"r":38,"c":2,"v":-0.3},{"r":38,"c":3,"v":-0.3},{"r":38,"c":4,"v":-0.3},{"r":38,"c":5,"v":-0.5},{"r":38,"c":6,"v":-1},{"r":38,"c":7,"v":-1},{"r":38,"c":8,"v":1.2},{"r":38,"c":9,"v":1.2},{"r":38,"c":10,"v":1.2},{"r":38,"c":11,"v":0.9},{"r":38,"c":12,"v":0.9},{"r":38,"c":13,"v":0.9},{"r":38,"c":14,"v":1},{"r":38,"c":15,"v":-0.3},{"r":38,"c":16,"v":-0.2},{"r":38,"c":17,"v":0.2},{"r":38,"c":18,"v":-0.2},{"r":38,"c":19,"v":-0.2},{"r":38,"c":20,"v":-0.3},{"r":38,"c":21,"v":-0.3},
{"r":39,"c":1,"v":-0.4},{"r":39,"c":2,"v":-0.4},{"r":39,"c":3,"v":-0.4},{"r":39,"c":4,"v":-0.4},{"r":39,"c":5,"v":-0.2},{"r":39,"c":6,"v":-0.5},{"r":39,"c":7,"v":-1},{"r":39,"c":8,"v":1.1},{"r":39,"c":9,"v":1.9},{"r":39,"c":10,"v":1.3},{"r":39,"c":11,"v":1},{"r":39,"c":12,"v":0.6},{"r":39,"c":13,"v":0.9},{"r":39,"c":14,"v":1},{"r":39,"c":15,"v":-0.3},{"r":39,"c":16,"v":-0.2},{"r":39,"c":17,"v":-0.3},{"r":39,"c":18,"v":-0.3},{"r":39,"c":19,"v":-0.3},{"r":39,"c":20,"v":0.2},{"r":39,"c":21,"v":-0.3},
{"r":40,"c":1,"v":-0.9},{"r":40,"c":2,"v":-0.2},{"r":40,"c":3,"v":-0.2},{"r":40,"c":4,"v":-0.2},{"r":40,"c":5,"v":-0.3},{"r":40,"c":6,"v":-0.2},{"r":40,"c":7,"v":-0.2},{"r":40,"c":8,"v":1.2},{"r":40,"c":9,"v":1.7},{"r":40,"c":10,"v":1.3},{"r":40,"c":11,"v":1.1},{"r":40,"c":12,"v":0.4},{"r":40,"c":13,"v":1.3},{"r":40,"c":14,"v":0.9},{"r":40,"c":15,"v":-0.2},{"r":40,"c":16,"v":-0.2},{"r":40,"c":17,"v":-0.2},{"r":40,"c":18,"v":-0.2},{"r":40,"c":19,"v":-0.2},{"r":40,"c":20,"v":-0.2},{"r":40,"c":21,"v":-0.2},
{"r":41,"c":1,"v":-0.2},{"r":41,"c":2,"v":-0.2},{"r":41,"c":3,"v":-0.2},{"r":41,"c":4,"v":-0.2},{"r":41,"c":5,"v":-0.2},{"r":41,"c":6,"v":-0.2},{"r":41,"c":7,"v":-0.2},{"r":41,"c":8,"v":0.3},{"r":41,"c":9,"v":1.7},{"r":41,"c":10,"v":1.5},{"r":41,"c":11,"v":0.9},{"r":41,"c":12,"v":1.7},{"r":41,"c":13,"v":1.4},{"r":41,"c":14,"v":0.5},{"r":41,"c":15,"v":-0.2},{"r":41,"c":16,"v":-0.2},{"r":41,"c":17,"v":-0.2},{"r":41,"c":18,"v":-0.2},{"r":41,"c":19,"v":-0.2},{"r":41,"c":20,"v":-0.2},{"r":41,"c":21,"v":-0.2},
{"r":42,"c":1,"v":-0.2},{"r":42,"c":2,"v":-0.2},{"r":42,"c":3,"v":-0.2},{"r":42,"c":4,"v":-0.2},{"r":42,"c":5,"v":-0.2},{"r":42,"c":6,"v":-0.2},{"r":42,"c":7,"v":-0.2},{"r":42,"c":8,"v":0.8},{"r":42,"c":9,"v":1.7},{"r":42,"c":10,"v":1.3},{"r":42,"c":11,"v":1.2},{"r":42,"c":12,"v":1.8},{"r":42,"c":13,"v":1.4},{"r":42,"c":14,"v":0.4},{"r":42,"c":15,"v":-0.2},{"r":42,"c":16,"v":-0.2},{"r":42,"c":17,"v":-0.2},{"r":42,"c":18,"v":-0.2},{"r":42,"c":19,"v":-0.2},{"r":42,"c":20,"v":-0.2},{"r":42,"c":21,"v":-0.2},
{"r":43,"c":1,"v":-0.2},{"r":43,"c":2,"v":-0.2},{"r":43,"c":3,"v":-0.1},{"r":43,"c":4,"v":0.1},{"r":43,"c":5,"v":0.1},{"r":43,"c":6,"v":-0.2},{"r":43,"c":7,"v":-0.2},{"r":43,"c":8,"v":0.7},{"r":43,"c":9,"v":0.8},{"r":43,"c":10,"v":0.3},{"r":43,"c":11,"v":0.7},{"r":43,"c":12,"v":2.3},{"r":43,"c":13,"v":1.3},{"r":43,"c":14,"v":1.5},{"r":43,"c":15,"v":-0.2},{"r":43,"c":16,"v":-0.2},{"r":43,"c":17,"v":-0.2},{"r":43,"c":18,"v":-0.3},{"r":43,"c":19,"v":-0.8},{"r":43,"c":20,"v":-0.2},{"r":43,"c":21,"v":0},
{"r":44,"c":1,"v":-0.2},{"r":44,"c":2,"v":-0.2},{"r":44,"c":3,"v":-0.2},{"r":44,"c":4,"v":-0.2},{"r":44,"c":5,"v":-0.3},{"r":44,"c":6,"v":-0.3},{"r":44,"c":7,"v":-0.2},{"r":44,"c":8,"v":0.9},{"r":44,"c":9,"v":1.8},{"r":44,"c":10,"v":0.7},{"r":44,"c":11,"v":0.8},{"r":44,"c":12,"v":1.7},{"r":44,"c":13,"v":1.1},{"r":44,"c":14,"v":0.6},{"r":44,"c":15,"v":-0.2},{"r":44,"c":16,"v":-0.2},{"r":44,"c":17,"v":-0.2},{"r":44,"c":18,"v":-0.3},{"r":44,"c":19,"v":-0.3},{"r":44,"c":20,"v":-0.2},{"r":44,"c":21,"v":-0.2},
{"r":45,"c":1,"v":-0.2},{"r":45,"c":2,"v":-0.3},{"r":45,"c":3,"v":-0.2},{"r":45,"c":4,"v":-0.3},{"r":45,"c":5,"v":-0.2},{"r":45,"c":6,"v":-0.3},{"r":45,"c":7,"v":-0.2},{"r":45,"c":8,"v":1.4},{"r":45,"c":9,"v":1.4},{"r":45,"c":10,"v":0.5},{"r":45,"c":11,"v":0.8},{"r":45,"c":12,"v":2},{"r":45,"c":13,"v":0.8},{"r":45,"c":14,"v":0.6},{"r":45,"c":15,"v":-0.3},{"r":45,"c":16,"v":-0.2},{"r":45,"c":17,"v":-0.2},{"r":45,"c":18,"v":-0.3},{"r":45,"c":19,"v":-0.3},{"r":45,"c":20,"v":-0.2},{"r":45,"c":21,"v":-0.3},
{"r":46,"c":1,"v":-0.2},{"r":46,"c":2,"v":-0.2},{"r":46,"c":3,"v":0},{"r":46,"c":4,"v":0.2},{"r":46,"c":5,"v":0.3},{"r":46,"c":6,"v":-0.1},{"r":46,"c":7,"v":-0.2},{"r":46,"c":8,"v":0.3},{"r":46,"c":9,"v":0.5},{"r":46,"c":10,"v":0.9},{"r":46,"c":11,"v":0.7},{"r":46,"c":12,"v":1},{"r":46,"c":13,"v":0.6},{"r":46,"c":14,"v":2.4},{"r":46,"c":15,"v":-0.2},{"r":46,"c":16,"v":-0.3},{"r":46,"c":17,"v":-0.2},{"r":46,"c":18,"v":0},{"r":46,"c":19,"v":-0.7},{"r":46,"c":20,"v":-0.7},{"r":46,"c":21,"v":-0.2},
{"r":47,"c":1,"v":0.2},{"r":47,"c":2,"v":0.3},{"r":47,"c":3,"v":0},{"r":47,"c":4,"v":-0.1},{"r":47,"c":5,"v":-0.3},{"r":47,"c":6,"v":0.1},{"r":47,"c":7,"v":-0.2},{"r":47,"c":8,"v":1.3},{"r":47,"c":9,"v":1.1},{"r":47,"c":10,"v":1.1},{"r":47,"c":11,"v":0.8},{"r":47,"c":12,"v":0.9},{"r":47,"c":13,"v":1},{"r":47,"c":14,"v":1.4},{"r":47,"c":15,"v":-0.5},{"r":47,"c":16,"v":-0.2},{"r":47,"c":17,"v":-0.5},{"r":47,"c":18,"v":-0.5},{"r":47,"c":19,"v":-0.2},{"r":47,"c":20,"v":-0.2},{"r":47,"c":21,"v":-0.2},
{"r":48,"c":1,"v":-0.2},{"r":48,"c":2,"v":-0.2},{"r":48,"c":3,"v":-0.2},{"r":48,"c":4,"v":-0.2},{"r":48,"c":5,"v":-0.2},{"r":48,"c":6,"v":-0.2},{"r":48,"c":7,"v":-0.2},{"r":48,"c":8,"v":0.8},{"r":48,"c":9,"v":1.6},{"r":48,"c":10,"v":0.6},{"r":48,"c":11,"v":1.8},{"r":48,"c":12,"v":0.5},{"r":48,"c":13,"v":1.1},{"r":48,"c":14,"v":1.3},{"r":48,"c":15,"v":-0.2},{"r":48,"c":16,"v":-0.2},{"r":48,"c":17,"v":-0.2},{"r":48,"c":18,"v":-0.2},{"r":48,"c":19,"v":-0.2},{"r":48,"c":20,"v":-0.2},{"r":48,"c":21,"v":-0.2},
{"r":49,"c":1,"v":-0.2},{"r":49,"c":2,"v":-0.2},{"r":49,"c":3,"v":-0.2},{"r":49,"c":4,"v":-0.2},{"r":49,"c":5,"v":-0.2},{"r":49,"c":6,"v":-0.2},{"r":49,"c":7,"v":-0.2},{"r":49,"c":8,"v":0.8},{"r":49,"c":9,"v":1.7},{"r":49,"c":10,"v":0.7},{"r":49,"c":11,"v":1.6},{"r":49,"c":12,"v":0.6},{"r":49,"c":13,"v":1.2},{"r":49,"c":14,"v":1.4},{"r":49,"c":15,"v":-0.2},{"r":49,"c":16,"v":-0.2},{"r":49,"c":17,"v":-0.2},{"r":49,"c":18,"v":-0.2},{"r":49,"c":19,"v":-0.2},{"r":49,"c":20,"v":-0.2},{"r":49,"c":21,"v":-0.2}
]},
"spacing":8,
"resolve":{"scale":{"color":"independent","fill":"independent","stroke":"independent","size":"independent","shape":"independent","opacity":"independent"},"legend":{"color":"independent","fill":"independent","stroke":"independent","size":"independent","shape":"independent"}},
"vconcat":[
{"hconcat":[
 {"hconcat":[
  {"width":0.2,"height":333,"data":{"values":[{}]},"mark":{"type":"point","opacity":0,"size":0},
   "encoding":{"y":{"datum":0,"type":"quantitative","axis":{"title":"PC_2","labels":false,"ticks":false,"domain":false,"grid":false,"titlePadding":-8,"titleColor":"#1A1A1A"}}}},
  {"vconcat":[
   {"width":164,"height":148,"view":{"stroke":"#666","strokeWidth":1},
    "title":{"text":"pos_PCA Scores","anchor":"end","frame":"group","dx":-1,"offset":-24.5,"baseline":"alphabetic","fontSize":11.5,"fontWeight":"normal","color":"#333"},
    "encoding":{"x":{"field":"x","type":"quantitative","scale":{"domain":[0,164],"nice":false,"zero":false},"axis":null},
     "y":{"field":"y","type":"quantitative","scale":{"domain":[0,148],"nice":false,"zero":false},"axis":null},
     "color":{"field":"g","type":"nominal","scale":{"domain":["IMQ+JH","IMQ","Sham"],"range":["#5B4BA0","#D9484A","#83B5E2"]},"legend":null}},
    "layer":[
     {"data":{"name":"ellPos"},"transform":[{"filter":"datum.g == 'IMQ+JH'"}],"mark":{"type":"point","filled":true,"size":4,"opacity":0.3,"strokeWidth":0,"shape":"M39.1,-26.1A47,24,-33.7,0,1,-39.1,26.1A47,24,-33.7,0,1,39.1,-26.1Z"}},
     {"data":{"name":"ellPos"},"transform":[{"filter":"datum.g == 'IMQ'"}],"mark":{"type":"point","filled":true,"size":4,"opacity":0.3,"strokeWidth":0,"shape":"M47.9,-2.5A48,26,-3,0,1,-47.9,2.5A48,26,-3,0,1,47.9,-2.5Z"}},
     {"data":{"name":"ellPos"},"transform":[{"filter":"datum.g == 'Sham'"}],"mark":{"type":"point","filled":true,"size":4,"opacity":0.3,"strokeWidth":0,"shape":"M5.9,-62.7A63,24.5,-84.6,0,1,-5.9,62.7A63,24.5,-84.6,0,1,5.9,-62.7Z"}},
     {"data":{"name":"pcaPos"},"mark":{"type":"circle","size":20,"opacity":1}}
    ]},
   {"width":164,"height":185,"view":{"stroke":"#666","strokeWidth":1},
    "title":{"text":"neg_PCA Scores","anchor":"end","frame":"group","dx":-1,"offset":-20.5,"baseline":"alphabetic","fontSize":11.5,"fontWeight":"normal","color":"#333"},
    "encoding":{"x":{"field":"x","type":"quantitative","scale":{"domain":[0,164],"nice":false,"zero":false},"axis":{"title":"PC_1","labels":false,"ticks":false,"domain":false,"titlePadding":5.5,"titleColor":"#1A1A1A"}},
     "y":{"field":"y","type":"quantitative","scale":{"domain":[0,185],"nice":false,"zero":false},"axis":null},
     "color":{"field":"g","type":"nominal","scale":{"domain":["IMQ+JH","IMQ","Sham"],"range":["#5B4BA0","#D9484A","#83B5E2"]},
      "legend":{"title":"group","orient":"none","legendX":63.3,"legendY":224.5,"symbolType":"circle","symbolSize":67,"symbolOpacity":1,"symbolStrokeWidth":0,"titleFontWeight":"bold","titleFontSize":12,"labelFontSize":12,"rowPadding":3.5,"titlePadding":4,"labelOffset":3}}},
    "layer":[
     {"data":{"name":"ellNeg"},"transform":[{"filter":"datum.g == 'IMQ+JH'"}],"mark":{"type":"point","filled":true,"size":4,"opacity":0.3,"strokeWidth":0,"shape":"M22.9,-31.6A39,22,-54,0,1,-22.9,31.6A39,22,-54,0,1,22.9,-31.6Z"}},
     {"data":{"name":"ellNeg"},"transform":[{"filter":"datum.g == 'IMQ'"}],"mark":{"type":"point","filled":true,"size":4,"opacity":0.3,"strokeWidth":0,"shape":"M36.8,-39.5A54,26,-47,0,1,-36.8,39.5A54,26,-47,0,1,36.8,-39.5Z"}},
     {"data":{"name":"ellNeg"},"transform":[{"filter":"datum.g == 'Sham'"}],"mark":{"type":"point","filled":true,"size":4,"opacity":0.3,"strokeWidth":0,"shape":"M47.2,5A47.5,18.5,6,0,1,-47.2,-5A47.5,18.5,6,0,1,47.2,5Z"}},
     {"data":{"name":"pcaNeg"},"mark":{"type":"circle","size":20,"opacity":1}}
    ]}
  ],"spacing":0,"bounds":"flush",
  "resolve":{"scale":{"color":"independent"},"legend":{"color":"independent"}}}
 ],"spacing":5.7,
 "resolve":{"scale":{"y":"independent","color":"independent"},"legend":{"color":"independent"}}},
 {"width":295,"height":332,"view":{"stroke":"#777","strokeWidth":1},
  "title":{"text":"B","anchor":"start","frame":"group","dx":-51,"offset":-38,"baseline":"alphabetic","fontSize":16,"fontWeight":"bold","color":"#000"},
  "layer":[
   {"data":{"name":"thr"},"mark":{"type":"rule","strokeDash":[6,4],"color":"#555","strokeWidth":1},
    "encoding":{"y":{"field":"t","type":"quantitative","scale":{"domain":[0.071,2.673],"nice":false,"zero":false},"axis":{"values":[0.5,1,1.5,2,2.5],"format":".1f","title":"−log₁₀ (Pvalue)","tickSize":4,"labelPadding":2,"titlePadding":2}}}},
   {"data":{"name":"pw"},"mark":{"type":"circle","opacity":1},
    "encoding":{"x":{"field":"imp","type":"quantitative","scale":{"domain":[-0.0123,0.267],"nice":false,"zero":false},"axis":{"values":[0,0.1,0.2],"format":".1f","title":"Pathway Impact","tickSize":4,"labelPadding":2,"titlePadding":1}},
     "y":{"field":"lp","type":"quantitative","scale":{"domain":[0.071,2.673],"nice":false,"zero":false},"axis":{"values":[0.5,1,1.5,2,2.5],"format":".1f","title":"−log₁₀ (Pvalue)","tickSize":4,"labelPadding":2,"titlePadding":2}},
     "size":{"field":"tot","type":"quantitative","scale":{"domain":[0,70],"range":[0,440]},
      "legend":{"title":"Total","orient":"none","legendX":23.4,"legendY":376,"titleOrient":"left","titleAnchor":"start","values":[20,40,60],"symbolType":"circle","symbolFillColor":"#000","symbolStrokeWidth":0,"symbolOpacity":1,"titleFontWeight":"bold","titleFontSize":12,"labelFontSize":12,"rowPadding":6,"titlePadding":6,"labelOffset":6}},
     "color":{"field":"lp","type":"quantitative","scale":{"domain":[0.18,0.45,0.8,1.1,1.55,2,2.55],"range":["#1E2C84","#3559B0","#6FA3D8","#A4C882","#E5C43B","#DE7A30","#A31C22"]},
      "legend":{"title":"−log₁₀ (Pvalue)  ","orient":"none","legendX":144,"legendY":374,"titleOrient":"top","titleAnchor":"start","titleAlign":"right","titleBaseline":"top","titlePadding":-8,"direction":"vertical","gradientLength":61,"gradientThickness":13,"values":[0.5,1,1.5,2,2.5],"format":".1f","titleFontWeight":"bold","titleFontSize":12,"labelFontSize":12,"labelOffset":2,"gradientStrokeWidth":0}}}},
   {"data":{"name":"pw"},"transform":[{"filter":"datum.label == 'Pyrimidine metabolism'"}],
    "mark":{"type":"text","align":"center","baseline":"middle","dx":-25,"dy":14.6,"fontSize":12,"color":"#222"},
    "encoding":{"x":{"field":"imp","type":"quantitative","scale":{"domain":[-0.0123,0.267],"nice":false,"zero":false}},"y":{"field":"lp","type":"quantitative","scale":{"domain":[0.071,2.673],"nice":false,"zero":false}},"text":{"field":"label"}}},
   {"data":{"name":"pw"},"transform":[{"filter":"datum.label == 'Tryptophan metabolism'"}],
    "mark":{"type":"text","align":"left","baseline":"middle","dx":12,"dy":0,"fontSize":12,"color":"#222"},
    "encoding":{"x":{"field":"imp","type":"quantitative","scale":{"domain":[-0.0123,0.267],"nice":false,"zero":false}},"y":{"field":"lp","type":"quantitative","scale":{"domain":[0.071,2.673],"nice":false,"zero":false}},"text":{"field":"label"}}},
   {"data":{"name":"pw"},"transform":[{"filter":"datum.label == 'Phosphonate and phosphinate metabolism'"}],
    "mark":{"type":"text","align":"left","baseline":"middle","dx":-7.3,"dy":12,"fontSize":12,"color":"#222"},
    "encoding":{"x":{"field":"imp","type":"quantitative","scale":{"domain":[-0.0123,0.267],"nice":false,"zero":false}},"y":{"field":"lp","type":"quantitative","scale":{"domain":[0.071,2.673],"nice":false,"zero":false}},"text":{"field":"label"}}},
   {"data":{"name":"pw"},"transform":[{"filter":"datum.label == 'D−Arginine and D−ornithine metabolism'"}],
    "mark":{"type":"text","align":"left","baseline":"middle","dx":-7.3,"dy":-9,"fontSize":11.5,"fontWeight":"bold","color":"#C0282D"},
    "encoding":{"x":{"field":"imp","type":"quantitative","scale":{"domain":[-0.0123,0.267],"nice":false,"zero":false}},"y":{"field":"lp","type":"quantitative","scale":{"domain":[0.071,2.673],"nice":false,"zero":false}},"text":{"field":"label"}}}
  ]},
 {"vconcat":[
  {"width":168,"height":25.3,"data":{"values":[]},"mark":"point","encoding":{},
   "title":{"text":"C","anchor":"start","frame":"group","dx":-51,"offset":-35.5,"baseline":"alphabetic","fontSize":16,"fontWeight":"bold","color":"#000"}},
  {"width":168,"height":165.7,
   "title":{"text":"Arginase activity","anchor":"middle","frame":"group","dx":-10.5,"offset":-9.7,"baseline":"alphabetic","fontSize":12.5,"fontWeight":"bold","color":"#111"},
   "encoding":{"x":{"field":"g","type":"nominal","scale":{"domain":["Sham","IMQ","IMQ+JL","IMQ+JH","IMQ+DEX"],"paddingInner":0.337,"paddingOuter":0.361},"axis":{"title":null,"labels":false,"ticks":false,"domainColor":"#555"}},
    "color":{"field":"g","type":"nominal","scale":{"domain":["Sham","IMQ","IMQ+JL","IMQ+JH","IMQ+DEX"],"range":["#9DC1E4","#C9707B","#D6B163","#AA9BD3","#3F5597"]},
     "legend":{"title":null,"values":["Sham","IMQ","IMQ+JL"],"orient":"none","legendX":-11,"legendY":173.7,"direction":"horizontal","columns":3,"symbolType":"circle","symbolSize":45,"symbolOpacity":1,"symbolStrokeWidth":0,"labelFontSize":12,"columnPadding":15,"gridAlign":"none","labelOffset":3}}},
   "layer":[
    {"data":{"name":"argC"},"mark":{"type":"bar","fillOpacity":0.55,"strokeWidth":0.8},
     "encoding":{"y":{"aggregate":"mean","field":"v","type":"quantitative","title":"U/mgprot","scale":{"domain":[0,150],"nice":false},"axis":{"values":[0,25,50,75,100,125,150],"labelExpr":"datum.value % 50 == 0 ? datum.label : ''","tickSize":4,"labelPadding":1.5,"titlePadding":3}},
      "stroke":{"field":"g","type":"nominal","scale":{"domain":["Sham","IMQ","IMQ+JL","IMQ+JH","IMQ+DEX"],"range":["#9DC1E4","#C9707B","#D6B163","#AA9BD3","#3F5597"]},"legend":null}}},
    {"data":{"name":"argC"},"mark":{"type":"errorbar","extent":"stderr","ticks":{"size":10},"thickness":1},
     "encoding":{"y":{"field":"v","type":"quantitative","title":"U/mgprot"}}},
    {"data":{"name":"argC"},"mark":{"type":"circle","size":28,"opacity":1},
     "encoding":{"xOffset":{"field":"rep","type":"nominal","scale":{"type":"point","range":[5.35,15.35],"padding":0}},"y":{"field":"v","type":"quantitative","title":"U/mgprot"}}},
    {"data":{"name":"sigC"},"transform":[{"filter":"datum.from == 'Sham'"}],"mark":{"type":"rule","strokeWidth":1.1,"x2Offset":-4},
     "encoding":{"x":{"field":"from","type":"nominal"},"x2":{"field":"to"},"y":{"field":"y","type":"quantitative","title":"U/mgprot"},"color":{"value":"#555"}}},
    {"data":{"name":"sigC"},"transform":[{"filter":"datum.to == 'IMQ+JH'"}],"mark":{"type":"rule","strokeWidth":1.1,"xOffset":4},
     "encoding":{"x":{"field":"from","type":"nominal"},"x2":{"field":"to"},"y":{"field":"y","type":"quantitative","title":"U/mgprot"},"color":{"value":"#555"}}},
    {"data":{"name":"sigC"},"transform":[{"filter":"datum.to == 'IMQ+DEX'"}],"mark":{"type":"rule","strokeWidth":1.1},
     "encoding":{"x":{"field":"from","type":"nominal"},"x2":{"field":"to"},"y":{"field":"y","type":"quantitative","title":"U/mgprot"},"color":{"value":"#555"}}},
    {"data":{"name":"sigC"},"transform":[{"filter":"datum.from == 'Sham'"}],"mark":{"type":"text","dx":15.6,"dy":-1,"baseline":"alphabetic","fontSize":12},
     "encoding":{"x":{"field":"from","type":"nominal"},"y":{"field":"y","type":"quantitative","title":"U/mgprot"},"text":{"field":"lab"},"color":{"value":"#222"}}},
    {"data":{"name":"sigC"},"transform":[{"filter":"datum.to == 'IMQ+JH'"}],"mark":{"type":"text","dx":-31.2,"dy":-1,"baseline":"alphabetic","fontSize":12},
     "encoding":{"x":{"field":"to","type":"nominal"},"y":{"field":"y","type":"quantitative","title":"U/mgprot"},"text":{"field":"lab"},"color":{"value":"#222"}}},
    {"data":{"name":"sigC"},"transform":[{"filter":"datum.to == 'IMQ+DEX'"}],"mark":{"type":"text","dx":-47,"dy":-1,"baseline":"alphabetic","fontSize":12},
     "encoding":{"x":{"field":"to","type":"nominal"},"y":{"field":"y","type":"quantitative","title":"U/mgprot"},"text":{"field":"lab"},"color":{"value":"#222"}}}
   ]},
  {"width":168,"height":73,"data":{"values":[]},"mark":"point","encoding":{},
   "title":{"text":"D","anchor":"start","frame":"group","dx":-51,"offset":-82,"baseline":"alphabetic","fontSize":16,"fontWeight":"bold","color":"#000"}},
  {"width":168,"height":165.7,
   "title":{"text":"Arg1","anchor":"middle","frame":"group","dx":-7,"offset":-55.3,"baseline":"alphabetic","fontSize":12.5,"fontWeight":"bold","fontStyle":"italic","color":"#111"},
   "encoding":{"x":{"field":"g","type":"nominal","scale":{"domain":["Sham","IMQ","IMQ+JL","IMQ+JH","IMQ+DEX"],"paddingInner":0.337,"paddingOuter":0.361},"axis":{"title":null,"labels":false,"ticks":false,"domainColor":"#555"}},
    "color":{"field":"g","type":"nominal","scale":{"domain":["Sham","IMQ","IMQ+JL","IMQ+JH","IMQ+DEX"],"range":["#9DC1E4","#C9707B","#D6B163","#AA9BD3","#3F5597"]},
     "legend":{"title":null,"values":["IMQ+JH","IMQ+DEX"],"orient":"none","legendX":-11,"legendY":-47.3,"direction":"horizontal","columns":2,"symbolType":"circle","symbolSize":45,"symbolOpacity":1,"symbolStrokeWidth":0,"labelFontSize":12,"columnPadding":0,"gridAlign":"none","labelOffset":3}}},
   "layer":[
    {"data":{"name":"argD"},"mark":{"type":"bar","fillOpacity":0.55,"strokeWidth":0.8},
     "encoding":{"y":{"aggregate":"mean","field":"v","type":"quantitative","title":["Relative expression","(fold change)"],"scale":{"domain":[0,80],"nice":false},"axis":{"values":[0,10,20,30,40,50,60,70,80],"labelExpr":"datum.value % 20 == 0 ? datum.label : ''","tickSize":4,"labelPadding":1.5,"titlePadding":5,"titleFontWeight":"bold","titleFontSize":11.5,"titleLineHeight":15}},
      "stroke":{"field":"g","type":"nominal","scale":{"domain":["Sham","IMQ","IMQ+JL","IMQ+JH","IMQ+DEX"],"range":["#9DC1E4","#C9707B","#D6B163","#AA9BD3","#3F5597"]},"legend":null}}},
    {"data":{"name":"argD"},"mark":{"type":"errorbar","extent":"stderr","ticks":{"size":10},"thickness":1},
     "encoding":{"y":{"field":"v","type":"quantitative","title":["Relative expression","(fold change)"]}}},
    {"data":{"name":"argD"},"mark":{"type":"circle","size":28,"opacity":1},
     "encoding":{"xOffset":{"field":"rep","type":"nominal","scale":{"type":"point","range":[5.35,15.35],"padding":0}},"y":{"field":"v","type":"quantitative","title":["Relative expression","(fold change)"]}}},
    {"data":{"name":"sigD"},"transform":[{"filter":"datum.from == 'Sham'"}],"mark":{"type":"rule","strokeWidth":1.1,"x2Offset":-4},
     "encoding":{"x":{"field":"from","type":"nominal"},"x2":{"field":"to"},"y":{"field":"y","type":"quantitative","title":["Relative expression","(fold change)"]},"color":{"value":"#555"}}},
    {"data":{"name":"sigD"},"transform":[{"filter":"datum.to == 'IMQ+JH'"}],"mark":{"type":"rule","strokeWidth":1.1,"xOffset":4},
     "encoding":{"x":{"field":"from","type":"nominal"},"x2":{"field":"to"},"y":{"field":"y","type":"quantitative","title":["Relative expression","(fold change)"]},"color":{"value":"#555"}}},
    {"data":{"name":"sigD"},"transform":[{"filter":"datum.to == 'IMQ+DEX'"}],"mark":{"type":"rule","strokeWidth":1.1},
     "encoding":{"x":{"field":"from","type":"nominal"},"x2":{"field":"to"},"y":{"field":"y","type":"quantitative","title":["Relative expression","(fold change)"]},"color":{"value":"#555"}}},
    {"data":{"name":"sigD"},"transform":[{"filter":"datum.from == 'Sham'"}],"mark":{"type":"text","dx":15.6,"dy":-1,"baseline":"alphabetic","fontSize":12},
     "encoding":{"x":{"field":"from","type":"nominal"},"y":{"field":"y","type":"quantitative","title":["Relative expression","(fold change)"]},"text":{"field":"lab"},"color":{"value":"#222"}}},
    {"data":{"name":"sigD"},"transform":[{"filter":"datum.to == 'IMQ+JH'"}],"mark":{"type":"text","dx":-31.2,"dy":-1,"baseline":"alphabetic","fontSize":12},
     "encoding":{"x":{"field":"to","type":"nominal"},"y":{"field":"y","type":"quantitative","title":["Relative expression","(fold change)"]},"text":{"field":"lab"},"color":{"value":"#222"}}},
    {"data":{"name":"sigD"},"transform":[{"filter":"datum.to == 'IMQ+DEX'"}],"mark":{"type":"text","dx":-47,"dy":-1,"baseline":"alphabetic","fontSize":12},
     "encoding":{"x":{"field":"to","type":"nominal"},"y":{"field":"y","type":"quantitative","title":["Relative expression","(fold change)"]},"text":{"field":"lab"},"color":{"value":"#222"}}}
   ]}
 ],"spacing":0,"bounds":"flush",
 "resolve":{"scale":{"color":"independent","stroke":"independent"},"legend":{"color":"independent","stroke":"independent"}}}
],"spacing":13.3,
"title":{"text":"A","anchor":"start","frame":"group","dx":-8,"offset":-37.2,"baseline":"alphabetic","fontSize":16,"fontWeight":"bold","color":"#000"},
"resolve":{"scale":{"y":"independent","color":"independent","fill":"independent","stroke":"independent","size":"independent","shape":"independent","opacity":"independent"},"legend":{"color":"independent","fill":"independent","stroke":"independent","size":"independent","shape":"independent"}}},
{"vconcat":[
 {"width":228,"height":7,"data":{"name":"cols"},"mark":"rect",
  "encoding":{"x":{"field":"c","type":"ordinal","axis":null},
   "y":{"datum":"group","type":"nominal","axis":{"orient":"right","ticks":false,"domain":false,"labelFontWeight":"bold","labelFontSize":11,"labelPadding":2,"title":null,"labelColor":"#111"}},
   "fill":{"field":"g","type":"nominal","scale":{"domain":["Sham","IMQ+JH","IMQ"],"range":["#7E9FDA","#6C51A9","#D9716B"]},"legend":null}}},
 {"width":228,"height":633,"data":{"name":"cells"},
  "transform":[{"lookup":"r","from":{"data":{"name":"metab"},"key":"r","fields":["m"]}}],
  "mark":"rect",
  "encoding":{"x":{"field":"c","type":"ordinal","axis":null},
   "y":{"field":"m","type":"nominal","sort":{"field":"r","op":"min"},"axis":{"orient":"right","ticks":false,"domain":false,"labelFontSize":10.8,"labelPadding":2,"labelLimit":0,"title":null,"labelColor":"#111"}},
   "fill":{"field":"v","type":"quantitative","scale":{"domain":[-2.66,-1.8,-0.8,-0.2,0.2,0.8,1.5,2.66],"range":["#4A66AE","#8DAFD6","#C6D9EA","#E6EEE0","#F6F3C6","#F0DA93","#E0A064","#B3282B"]},
    "legend":{"title":"expression level","orient":"none","legendX":588,"legendY":-3,"direction":"horizontal","gradientLength":97,"gradientThickness":15,"values":[-2,-1,0,1,2],"titleAnchor":"middle","titleFontSize":12,"titleFontWeight":"normal","labelFontSize":12,"titlePadding":3,"labelOffset":3,"gradientStrokeWidth":0}}}}
],"spacing":3,"bounds":"flush",
"resolve":{"scale":{"fill":"independent"},"legend":{"fill":"independent"}},
"title":{"text":"E","anchor":"start","frame":"group","dx":-8,"offset":-12.2,"baseline":"alphabetic","fontSize":16,"fontWeight":"bold","color":"#000"}}
]
}
